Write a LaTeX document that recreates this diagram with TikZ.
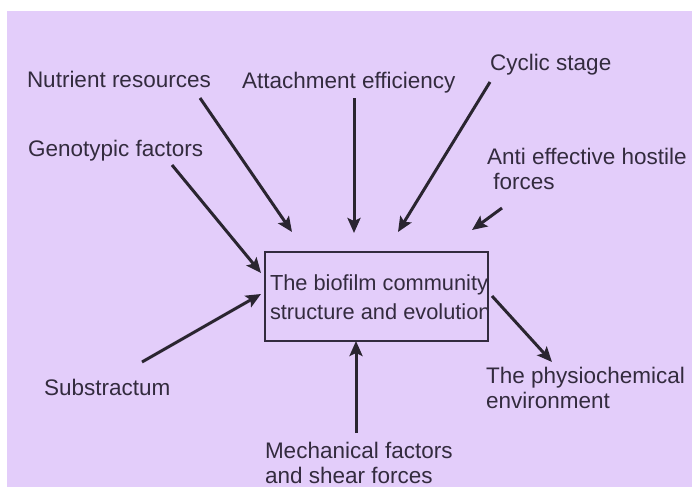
\documentclass[tikz,border=0pt]{standalone}
\usepackage{fontspec}
\setmainfont{Liberation Sans}
\usetikzlibrary{arrows.meta}
\definecolor{bgpurple}{HTML}{E3CDFA}
\definecolor{inkc}{HTML}{332B3E}
\definecolor{arrowc}{HTML}{2A2530}
\begin{document}
\begin{tikzpicture}[x=1pt,y=-1pt,
  lbl/.style={inner sep=0pt,outer sep=0pt,text=inkc,font=\fontsize{22.5}{24.5}\selectfont,align=left,anchor=north west},
  conn/.style={draw=arrowc,line width=3pt,-{Stealth[length=15pt,width=13pt,inset=3pt]}},
  frame/.style={draw=inkc,line width=1.6pt,inner sep=0pt,minimum width=223pt,minimum height=89pt}]
\path[use as bounding box] (0,0) rectangle (692,487);
\fill[white] (0,0) rectangle (692,487);
\fill[bgpurple] (7,11) rectangle (692,487);

% labels
\node[lbl] (nut) at (27,71.6) {Nutrient resources};
\node[lbl] (att) at (242,72.6) {Attachment efficiency};
\node[lbl] (cyc) at (490,54.6) {Cyclic stage};
\node[lbl] (gen) at (28,140.6) {Genotypic factors};
\node[lbl] (anti) at (487,148.6) {Anti effective hostile\\\ forces};
\node[lbl] (sub) at (44,379.6) {Substractum};
\node[lbl] (phys) at (486,367.6) {The physiochemical\\environment};
\node[lbl] (mech) at (265,442.6) {Mechanical factors\\and shear forces};

% central box
\node[frame] (box) at (376.5,296.5) {};
\node[lbl,font=\fontsize{21.8}{29.5}\selectfont] (boxtext) at (270,274.3) {The biofilm community\\structure and evolution};

% connector end points
\coordinate (nutT) at (200,98);   \coordinate (nutH) at (292,232);
\coordinate (attT) at (354,98);   \coordinate (attH) at (354,233);
\coordinate (cycT) at (490,82);   \coordinate (cycH) at (398,232);
\coordinate (antiT) at (502,208); \coordinate (antiH) at (472,230);
\coordinate (genT) at (172,165);  \coordinate (genH) at (261,273);
\coordinate (subT) at (142,362);  \coordinate (subH) at (261,294);
\coordinate (physT) at (492,296); \coordinate (physH) at (552,362);
\coordinate (mechT) at (356,433); \coordinate (mechH) at (356,341);

\draw[conn] (nutT) -- (nutH);
\draw[conn] (attT) -- (attH);
\draw[conn] (cycT) -- (cycH);
\draw[conn] (antiT) -- (antiH);
\draw[conn] (genT) -- (genH);
\draw[conn] (subT) -- (subH);
\draw[conn] (physT) -- (physH);
\draw[conn] (mechT) -- (mechH);
\end{tikzpicture}
\end{document}
